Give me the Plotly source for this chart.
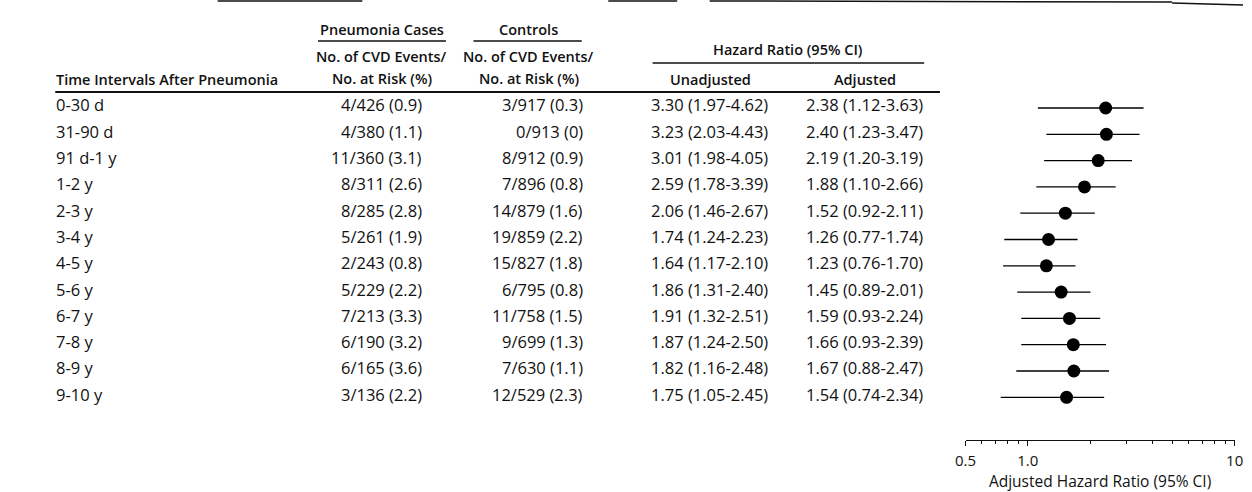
import math
import plotly.graph_objects as go

# ---------------- data ----------------
intervals = ["0-30 d", "31-90 d", "91 d-1 y", "1-2 y", "2-3 y", "3-4 y",
             "4-5 y", "5-6 y", "6-7 y", "7-8 y", "8-9 y", "9-10 y"]
case_events = [4, 4, 11, 8, 8, 5, 2, 5, 7, 6, 6, 3]
case_risk = [426, 380, 360, 311, 285, 261, 243, 229, 213, 190, 165, 136]
case_pct = ["0.9", "1.1", "3.1", "2.6", "2.8", "1.9", "0.8", "2.2", "3.3", "3.2", "3.6", "2.2"]
ctrl_events = [3, 0, 8, 7, 14, 19, 15, 6, 11, 9, 7, 12]
ctrl_risk = [917, 913, 912, 896, 879, 859, 827, 795, 758, 699, 630, 529]
ctrl_pct = ["0.3", "0", "0.9", "0.8", "1.6", "2.2", "1.8", "0.8", "1.5", "1.3", "1.1", "2.3"]
unadj_hr = [3.30, 3.23, 3.01, 2.59, 2.06, 1.74, 1.64, 1.86, 1.91, 1.87, 1.82, 1.75]
unadj_lo = [1.97, 2.03, 1.98, 1.78, 1.46, 1.24, 1.17, 1.31, 1.32, 1.24, 1.16, 1.05]
unadj_hi = [4.62, 4.43, 4.05, 3.39, 2.67, 2.23, 2.10, 2.40, 2.51, 2.50, 2.48, 2.45]
adj_hr = [2.38, 2.40, 2.19, 1.88, 1.52, 1.26, 1.23, 1.45, 1.59, 1.66, 1.67, 1.54]
adj_lo = [1.12, 1.23, 1.20, 1.10, 0.92, 0.77, 0.76, 0.89, 0.93, 0.93, 0.88, 0.74]
adj_hi = [3.63, 3.47, 3.19, 2.66, 2.11, 1.74, 1.70, 2.01, 2.24, 2.39, 2.47, 2.34]

tick_vals = [0.5, 1.0, 10]
tick_text = ["0.5", "1.0", "10"]
minor_vals = [0.6, 0.7, 0.8, 0.9, 2, 3, 4, 5, 6, 7, 8, 9]

# ---------------- layout helpers ----------------
W, H = 1252, 492
def px(x):
    return x / W
def py(y):
    return 1 - y / H

FONT = "Open Sans"
INK = "#111111"
data_font = dict(family=FONT, size=16.5, color=INK)
head_font = dict(family=FONT, size=14.5, color=INK, weight=600)

fig = go.Figure()

fig.add_trace(go.Scatter(
    x=adj_hr, y=intervals, mode="markers",
    marker=dict(size=13, color="black"),
    error_x=dict(type="data", symmetric=False,
                 array=[h - m for h, m in zip(adj_hi, adj_hr)],
                 arrayminus=[m - l for m, l in zip(adj_hr, adj_lo)],
                 width=0, thickness=1.3, color="black"),
    showlegend=False, hoverinfo="skip",
    xaxis="x", yaxis="y",
))

# row geometry (pixels)
row0, step = 108.0, 26.3
axis_y = 440.0
top_px = row0 - step / 2
bottom_val = -0.5 + (axis_y - top_px) / step

annotations = []
def txt(text, x, y, font, xanchor="center"):
    annotations.append(dict(text=text, x=px(x), y=py(y), xref="paper", yref="paper",
                            xanchor=xanchor, yanchor="middle", showarrow=False, font=font))

def rowtxt(text, x, cat, xanchor):
    annotations.append(dict(text=text, x=px(x), y=cat, xref="paper", yref="y",
                            xanchor=xanchor, yanchor="middle", showarrow=False,
                            font=data_font, yshift=3))

# headers
txt("Pneumonia Cases", 377, 29, head_font)
txt("Controls", 526, 29, head_font)
txt("No. of CVD Events/", 377, 57, head_font)
txt("No. at Risk (%)", 377, 78, head_font)
txt("No. of CVD Events/", 526, 57, head_font)
txt("No. at Risk (%)", 526, 78, head_font)
txt("Hazard Ratio (95% CI)", 790, 50, head_font)
txt("Unadjusted", 711, 79, head_font)
txt("Adjusted", 868, 79, head_font)
txt("Time Intervals After Pneumonia", 44, 79, head_font, "left")

for i, cat in enumerate(intervals):
    rowtxt(cat, 44, cat, "left")
    rowtxt(f"{case_events[i]}/{case_risk[i]} ({case_pct[i]})", 420, cat, "right")
    rowtxt(f"{ctrl_events[i]}/{ctrl_risk[i]} ({ctrl_pct[i]})", 583, cat, "right")
    rowtxt(f"{unadj_hr[i]:.2f} ({unadj_lo[i]:.2f}-{unadj_hi[i]:.2f})", 648, cat, "left")
    rowtxt(f"{adj_hr[i]:.2f} ({adj_lo[i]:.2f}-{adj_hi[i]:.2f})", 806, cat, "left")

shapes = []
def hline(x0, x1, y0, y1=None, w=1.3):
    if y1 is None:
        y1 = y0
    shapes.append(dict(type="line", xref="paper", yref="paper",
                       x0=px(x0), x1=px(x1), y0=py(y0), y1=py(y1),
                       line=dict(color=INK, width=w)))

hline(312, 442, 41)          # under Pneumonia Cases
hline(470, 580, 41)          # under Controls
hline(652, 928, 63)          # under Hazard Ratio
hline(45, 944, 92, w=1.8)    # header rule
# scan-edge rules at the very top
hline(210, 357, 1, w=1.5)
hline(607, 677, 1, w=1.5)
hline(710, 1180, 1, 2, w=1.5)
hline(1180, 1252, 3, 5, w=1.5)

fig.update_layout(
    width=W, height=H, autosize=False,
    margin=dict(l=0, r=0, t=0, b=0),
    paper_bgcolor="white", plot_bgcolor="white",
    showlegend=False,
    annotations=annotations, shapes=shapes,
    xaxis=dict(
        type="log", range=[math.log10(0.5), 1.0],
        domain=[px(970), px(1243.5)], anchor="y",
        showline=True, linecolor=INK, linewidth=1.3,
        showgrid=False, zeroline=False,
        ticks="outside", ticklen=5, tickwidth=1, tickcolor=INK,
        tickvals=tick_vals, ticktext=tick_text,
        tickfont=dict(family=FONT, size=15, color=INK),
        ticklabelstandoff=2, ticklabeloverflow="allow",
        minor=dict(ticks="outside", ticklen=3, tickwidth=1, tickcolor=INK,
                   tickvals=minor_vals, showgrid=False),
        title=dict(text="Adjusted Hazard Ratio (95% CI)",
                   font=dict(family=FONT, size=15.5, color=INK), standoff=0),
    ),
    yaxis=dict(
        type="category", categoryorder="array", categoryarray=intervals,
        range=[bottom_val, -0.5],
        domain=[py(axis_y), py(top_px)], anchor="x",
        visible=False, showgrid=False, zeroline=False,
    ),
)

fig.write_html(
    "out.html",
    config={"displayModeBar": False},
    post_script="document.body.style.margin='0';document.body.style.overflow='hidden';",
)
